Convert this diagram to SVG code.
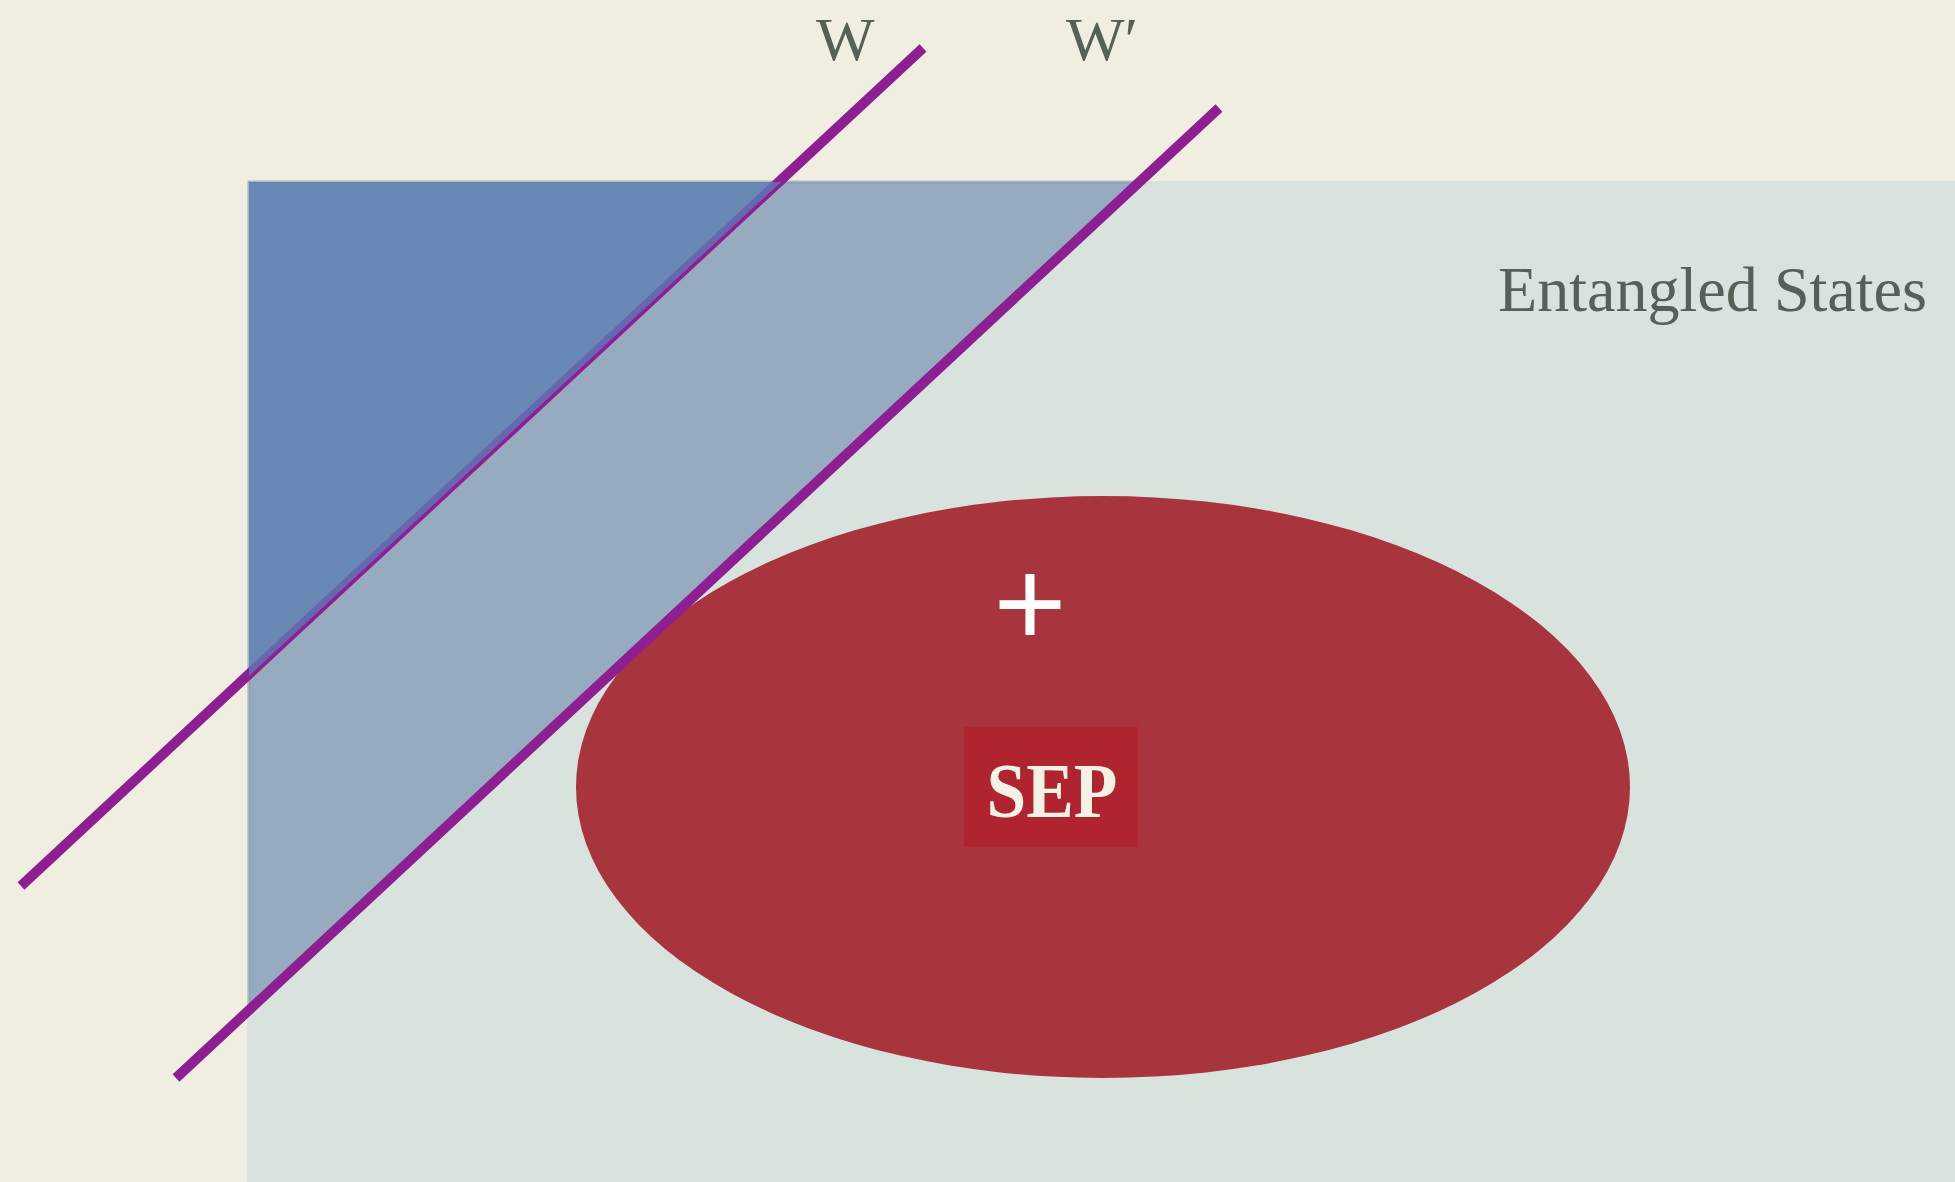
<svg xmlns="http://www.w3.org/2000/svg" width="1955" height="1182" viewBox="0 0 1955 1182">
<style>
.lbl{font-family:"Liberation Serif","DejaVu Serif",serif;fill:#556056}
.wline{stroke:#8e1f92;stroke-width:10;stroke-linecap:butt;fill:none}
</style>
<rect id="paper" x="0" y="0" width="1955" height="1182" fill="#efeee1"/>
<g id="entangled">
<rect x="247" y="181" width="1708" height="1001" fill="#d8e3dd"/>
<text class="lbl" x="1498" y="311" font-size="64" textLength="429" lengthAdjust="spacingAndGlyphs">Entangled States</text>
</g>
<g id="sep">
<ellipse cx="1103" cy="787" rx="527" ry="291" fill="#a8353d"/>
<text x="1030" y="646" font-family="Liberation Sans, Arial, sans-serif" font-size="125" fill="#ffffff" text-anchor="middle">+</text>
<rect x="964" y="727" width="174" height="120" fill="#b0242f"/>
<text x="1052" y="817" font-family="Liberation Serif, DejaVu Serif, serif" font-weight="bold" font-size="78" fill="#f4f2e4" text-anchor="middle" textLength="131" lengthAdjust="spacingAndGlyphs">SEP</text>
</g>
<g id="halfplane-wprime">
<polygon points="249,182 1140,182 249,1010" fill="#96abbf" stroke="#8c9ea6" stroke-width="3" stroke-opacity="0.6"/>
</g>
<g id="connectors">
<line class="wline" x1="21" y1="886" x2="923" y2="48"/>
<line class="wline" x1="176" y1="1078" x2="1219" y2="108"/>
</g>
<g id="halfplane-w">
<polygon points="249,182 781,182 249,676" fill="#5a7db4" fill-opacity="0.77"/>
</g>
<g id="labels">
<text class="lbl" x="816" y="60" font-size="62">W</text>
<text class="lbl" x="1066" y="60" font-size="62">W′</text>
</g>
</svg>
